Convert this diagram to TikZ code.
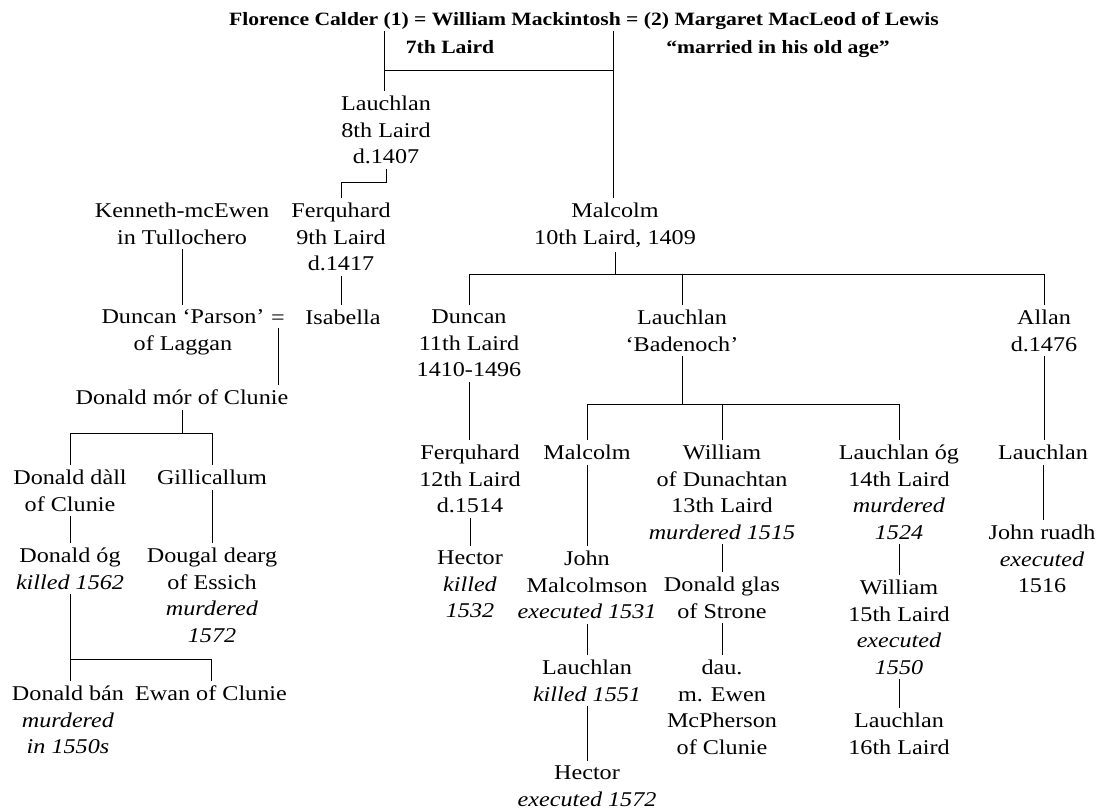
\documentclass[tikz,border=0pt]{standalone}
\usepackage{fontspec}
\setmainfont{Liberation Serif}[FakeStretch=1.15]
\begin{document}
\begin{tikzpicture}[x=1pt,y=-1pt,line width=0.8pt,
    person/.style={align=center,anchor=north,inner sep=0pt,outer sep=5pt},
    heading/.style={anchor=base,font=\fontsize{18.8}{26.5}\selectfont\bfseries},
    every node/.append style={font=\fontsize{21}{26.5}\selectfont}]
  \useasboundingbox (0,0) rectangle (1098,811);
  % first generations
  \node[heading] (top) at (584,25)
    {Florence Calder (1) = William Mackintosh = (2) Margaret MacLeod of Lewis};
  \node[heading] (laird7) at (450,53) {7th Laird};
  \node[heading] (oldage) at (778,53) {“married in his old age”};
  \coordinate (wedA) at (384,31);
  \coordinate (wedB) at (613,31);
  \coordinate (barT) at (0,70);
  \node[person] (lauchlanA) at (386,91) {Lauchlan\\8th Laird\\d.1407};
  \node[person] (ferqA) at (341,198) {Ferquhard\\9th Laird\\d.1417};
  \node[person] (kenneth) at (182,198) {Kenneth-mcEwen\\in Tullochero};
  \node[person] (isabella) at (343,305) {Isabella};
  \node[person] (parson) at (183,305) {Duncan ‘Parson’\\of Laggan};
  \node[anchor=base] (eqc) at (278,324) {=};
  \node[person] (donaldmor) at (182,385) {Donald mór of Clunie};
  % Clunie line
  \node[person] (dall) at (70,465) {Donald dàll\\of Clunie};
  \node[person] (gilli) at (212,465) {Gillicallum};
  \node[person] (donaldog) at (70,543) {Donald óg\\\textit{killed 1562}};
  \node[person] (dougal) at (212,543) {Dougal dearg\\of Essich\\\textit{murdered}\\\textit{1572}};
  \node[person] (donaldban) at (68,681) {Donald bán\\\textit{murdered}\\\textit{in 1550s}};
  \node[person] (ewan) at (211,681) {Ewan of Clunie};
  % Malcolm and his sons
  \node[person] (malcolmA) at (615,198) {Malcolm\\10th Laird, 1409};
  \node[person] (duncanA) at (469,305) {Duncan\\11th Laird\\1410-1496};
  \node[person] (badenoch) at (682,305) {Lauchlan\\‘Badenoch’};
  \node[person] (allan) at (1044,305) {Allan\\d.1476};
  \node[person] (ferqB) at (470,440) {Ferquhard\\12th Laird\\d.1514};
  \node[person] (malcolmB) at (587,440) {Malcolm};
  \node[person] (williamA) at (722,440) {William\\of Dunachtan\\13th Laird\\\textit{murdered 1515}};
  \node[person] (lauchlanog) at (899,440) {Lauchlan óg\\14th Laird\\\textit{murdered}\\\textit{1524}};
  \node[person] (lauchlanB) at (1043,440) {Lauchlan};
  \node[person] (hectorA) at (470,546) {Hector\\\textit{killed}\\\textit{1532}};
  \node[person] (john) at (587,546) {John\\Malcolmson\\\textit{executed 1531}};
  \node[person] (donaldglas) at (722,572) {Donald glas\\of Strone};
  \node[person] (williamB) at (899,575) {William\\15th Laird\\\textit{executed}\\\textit{1550}};
  \node[person] (johnruadh) at (1042,520) {John ruadh\\\textit{executed}\\1516};
  \node[person] (lauchlanC) at (587,655) {Lauchlan\\\textit{killed 1551}};
  \node[person] (dau) at (722,655) {dau.\\m. Ewen\\McPherson\\of Clunie};
  \node[person] (lauchlanD) at (899,708) {Lauchlan\\16th Laird};
  \node[person] (hectorB) at (587,761) {Hector\\\textit{executed 1572}};
  \coordinate (barA) at (0,182);
  \coordinate (barD) at (0,433);
  \coordinate (barF) at (0,659);
  \coordinate (barM) at (0,274);
  \coordinate (barL) at (0,404);
  \begin{scope}[-]
    \draw (wedA) -- (wedA |- lauchlanA.north);
    \draw (wedB) -- (wedB |- malcolmA.north);
    \draw (wedA |- barT) -- (wedB |- barT);
    \draw (lauchlanA.south) -- (lauchlanA.south |- barA) -| (ferqA.north);
    \draw (ferqA.south) -- (ferqA.south |- isabella.north);
    \draw (kenneth.south) -- (kenneth.south |- parson.north);
    \draw (eqc.south) -- (eqc.south |- donaldmor.north);
    \draw (donaldmor.south) -- (donaldmor.south |- barD);
    \draw (dall.north) -- (dall.north |- barD) -| (gilli.north);
    \draw (dall.south) -- (dall.south |- donaldog.north);
    \draw (gilli.south) -- (gilli.south |- dougal.north);
    \draw (donaldog.south) -- (donaldog.south |- donaldban.north);
    \draw (donaldog.south |- barF) -| (ewan.north);
    \draw (malcolmA.south) -- (malcolmA.south |- barM);
    \draw (duncanA.north) -- (duncanA.north |- barM) -| (allan.north);
    \draw (badenoch.north) -- (badenoch.north |- barM);
    \draw (duncanA.south) -- (duncanA.south |- ferqB.north);
    \draw (badenoch.south) -- (badenoch.south |- barL);
    \draw (malcolmB.north) -- (malcolmB.north |- barL) -| (lauchlanog.north);
    \draw (williamA.north) -- (williamA.north |- barL);
    \draw (allan.south) -- (allan.south |- lauchlanB.north);
    \draw (ferqB.south) -- (ferqB.south |- hectorA.north);
    \draw (malcolmB.south) -- (malcolmB.south |- john.north);
    \draw (williamA.south) -- (williamA.south |- donaldglas.north);
    \draw (lauchlanog.south) -- (lauchlanog.south |- williamB.north);
    \draw (lauchlanB.south) -- (lauchlanB.south |- johnruadh.north);
    \draw (john.south) -- (john.south |- lauchlanC.north);
    \draw (donaldglas.south) -- (donaldglas.south |- dau.north);
    \draw (williamB.south) -- (williamB.south |- lauchlanD.north);
    \draw (lauchlanC.south) -- (lauchlanC.south |- hectorB.north);
  \end{scope}
\end{tikzpicture}
\end{document}
